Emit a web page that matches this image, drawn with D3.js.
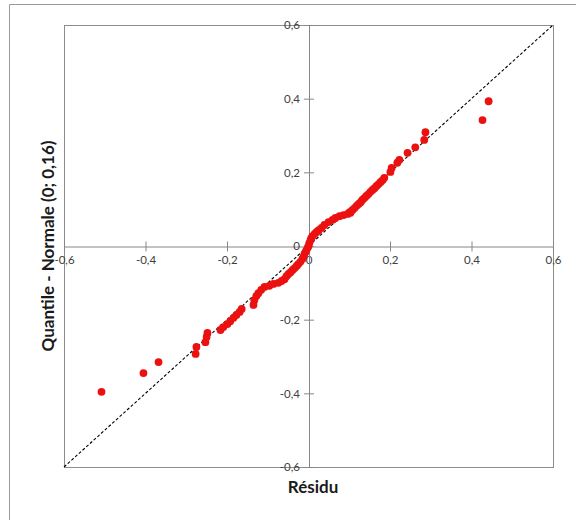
<!DOCTYPE html>
<html><head><meta charset="utf-8">
<script src="https://cdn.jsdelivr.net/npm/d3@7"></script>
<style>body{margin:0;background:#fff}svg{display:block}</style>
</head><body>
<script>
// Residuals (x) and normal quantiles (y)
const residus = [-0.508,-0.405,-0.368,-0.277,-0.275,-0.253,-0.250,-0.248,-0.216,-0.209,-0.199,-0.192,-0.184,-0.177,-0.169,-0.164,-0.135,-0.133,-0.128,-0.123,-0.116,-0.108,-0.096,-0.086,-0.074,-0.066,-0.059,-0.054,-0.049,-0.044,-0.039,-0.034,-0.029,-0.025,-0.020,-0.015,-0.012,-0.010,-0.007,-0.005,-0.002,0.000,
0.002,0.005,0.007,0.010,0.015,0.020,0.025,0.032,0.039,0.049,0.059,0.066,0.076,0.086,0.096,0.103,0.101,0.108,0.113,0.118,0.123,0.128,0.132,0.137,0.142,0.147,0.152,0.157,0.162,0.167,0.172,0.177,0.182,0.186,0.201,0.204,0.218,0.223,0.243,0.262,0.284,0.287,0.427,0.442];
const quantiles = [-0.396,-0.345,-0.315,-0.293,-0.274,-0.261,-0.247,-0.236,-0.228,-0.220,-0.212,-0.204,-0.195,-0.187,-0.179,-0.171,-0.160,-0.147,-0.136,-0.128,-0.119,-0.111,-0.108,-0.103,-0.100,-0.095,-0.090,-0.082,-0.076,-0.071,-0.065,-0.060,-0.054,-0.049,-0.043,-0.035,-0.030,-0.022,-0.016,-0.011,-0.005,0.000,
0.008,0.016,0.022,0.027,0.033,0.038,0.043,0.049,0.057,0.065,0.071,0.076,0.081,0.084,0.087,0.090,0.092,0.098,0.103,0.109,0.114,0.119,0.125,0.130,0.136,0.141,0.147,0.152,0.157,0.163,0.168,0.174,0.179,0.185,0.201,0.212,0.226,0.234,0.253,0.268,0.288,0.309,0.342,0.393];
const xTicks = [-0.6,-0.4,-0.2,0,0.2,0.4,0.6];
const yTicks = [-0.6,-0.4,-0.2,0,0.2,0.4,0.6];
const xTitle = "Résidu";
const yTitle = "Quantile - Normale (0; 0,16)";

const W = 576, H = 520;
const svg = d3.select("body").append("svg").attr("width", W).attr("height", H);

// outer chart frame (left + top visible)
svg.append("path").attr("d", "M9.5,520V4.5H576").attr("fill","none").attr("stroke","#9a9a9a").attr("stroke-width",1);

const x = d3.scaleLinear().domain([-0.6,0.6]).range([64,553]);
const y = d3.scaleLinear().domain([-0.6,0.6]).range([467,25]);

// plot area border
svg.append("rect").attr("x",x(-0.6)+0.5).attr("y",y(0.6)+0.5)
  .attr("width",x(0.6)-x(-0.6)).attr("height",y(-0.6)-y(0.6))
  .attr("fill","none").attr("stroke","#8c8c8c").attr("stroke-width",1);

const fmt = d => d === 0 ? "0" : d3.format(".1f")(d).replace(".", ",").replace("−","-");

// x axis through y=0
const xAxis = d3.axisBottom(x).tickValues(xTicks).tickSize(0).tickFormat(fmt);
const gx = svg.append("g").attr("transform",`translate(0,${y(0)+0.5})`).call(xAxis);
gx.select(".domain").attr("stroke","#868686");
gx.selectAll("text").attr("dy","1.25em").attr("fill","#404040")
  .style("font-family","Lato, 'Liberation Sans', sans-serif").style("font-size","11.5px");
gx.selectAll(".tick").append("line").attr("y1",-5).attr("y2",5).attr("stroke","#868686");

// y axis through x=0
const yAxis = d3.axisLeft(y).tickValues(yTicks).tickSize(0).tickFormat(fmt);
const gy = svg.append("g").attr("transform",`translate(${x(0)+0.5},0)`).call(yAxis);
gy.select(".domain").attr("stroke","#868686");
gy.selectAll("text").attr("x",-9).attr("fill","#404040")
  .style("font-family","Lato, 'Liberation Sans', sans-serif").style("font-size","11.5px");
gy.selectAll(".tick").append("line").attr("x1",-5).attr("x2",5).attr("stroke","#868686");

// reference diagonal
svg.append("line").attr("x1",x(-0.6)).attr("y1",y(-0.6)).attr("x2",x(0.6)).attr("y2",y(0.6))
  .attr("stroke","#000").attr("stroke-width",1.1).attr("stroke-dasharray","3,2");

// points
const pts = residus.map((r,i)=>({r, q: quantiles[i]}));
svg.append("g").selectAll("circle").data(pts).join("circle")
  .attr("cx",d=>x(d.r)).attr("cy",d=>y(d.q)).attr("r",3.9).attr("fill","#ec1111");

// titles
svg.append("text").attr("x",313).attr("y",493).attr("text-anchor","middle")
  .style("font-family","Lato, 'Liberation Sans', sans-serif").style("font-weight","bold").style("font-size","17px")
  .attr("fill","#1a1a1a").text(xTitle);
svg.append("text").attr("transform",`translate(54,${y(0)}) rotate(-90)`).attr("text-anchor","middle")
  .style("font-family","Lato, 'Liberation Sans', sans-serif").style("font-weight","bold").style("font-size","17px")
  .attr("fill","#1a1a1a").text(yTitle);
</script>
</body></html>
